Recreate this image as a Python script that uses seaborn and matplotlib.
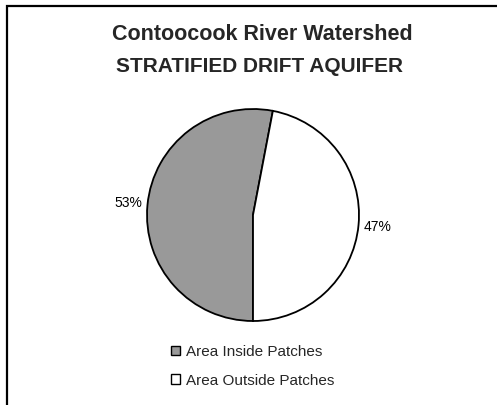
import matplotlib
matplotlib.use("Agg")
import matplotlib.pyplot as plt
import seaborn as sns
from matplotlib.patches import Rectangle, Patch

categories = ["Area Inside Patches", "Area Outside Patches"]
shares = [53, 47]
colors = ["#999999", "#ffffff"]
title_lines = ["Contoocook River Watershed", "STRATIFIED DRIFT AQUIFER"]

sns.set_style("white")
plt.rcParams["font.family"] = ["Liberation Sans", "DejaVu Sans"]

W, H = 497, 405
fig = plt.figure(figsize=(W / 100, H / 100), dpi=100)

# outer chart frame (runs off the right and bottom edges)
fig.patches.append(Rectangle((7 / W, -0.05), 1.05, 1 - 6 / H + 0.05,
                             transform=fig.transFigure, fill=False,
                             edgecolor="black", linewidth=1.6))

# pie axes: center (253, 215) px, radius ~106 px
cx, cy, r = 253, 215, 106
ax = fig.add_axes([(cx - r) / W, (H - cy - r) / H, 2 * r / W, 2 * r / H])
ax.pie(shares, colors=colors, startangle=270, counterclock=False,
       autopct=lambda p: f"{round(p)}%", pctdistance=1.18, radius=1,
       wedgeprops=dict(edgecolor="black", linewidth=1.3),
       textprops=dict(fontsize=10, color="black"))
ax.set_xlim(-1, 1)
ax.set_ylim(-1, 1)
ax.set_aspect("equal")
ax.axis("off")

fig.text(262 / W, 1 - 34 / H, title_lines[0], ha="center", va="center",
         fontsize=15.5, fontweight="bold")
fig.text(259 / W, 1 - 66 / H, title_lines[1], ha="center", va="center",
         fontsize=15, fontweight="bold")

handles = [Patch(facecolor=c, edgecolor="black", linewidth=1.0) for c in colors]
fig.legend(handles, categories, loc="upper left",
           bbox_to_anchor=(171 / W, 1 - 345 / H), frameon=False,
           fontsize=11, handlelength=0.6, handleheight=0.6,
           handletextpad=0.4, labelspacing=0.95, borderpad=0, borderaxespad=0)

fig.savefig("out.png", dpi=100)
